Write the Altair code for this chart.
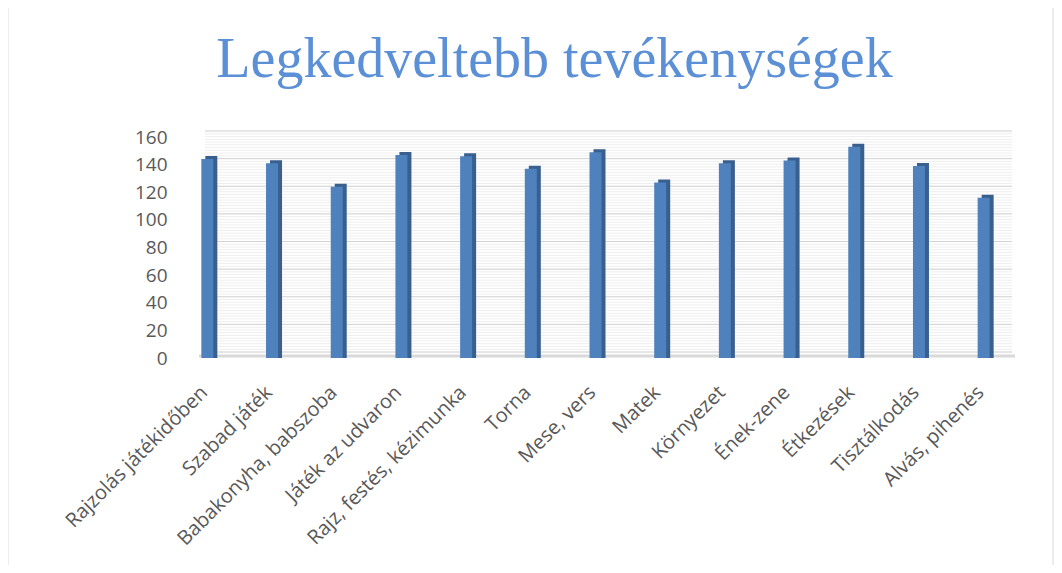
import altair as alt
import pandas as pd

categories = ["Rajzolás játékidőben", "Szabad játék", "Babakonyha, babszoba",
              "Játék az udvaron", "Rajz, festés, kézimunka", "Torna", "Mese, vers",
              "Matek", "Környezet", "Ének-zene", "Étkezések", "Tisztálkodás",
              "Alvás, pihenés"]
values = [144, 141, 124, 147, 146, 137, 149, 127, 141, 143, 153, 139, 116]
major_ticks = [0, 20, 40, 60, 80, 100, 120, 140, 160]
minor_ticks = list(range(0, 161, 2))

W, H = 841, 221
df = pd.DataFrame({"cat": categories, "val": values})
ydom = alt.Scale(domain=[0, 160], nice=False)
xsc = alt.X("cat:N", sort=categories, scale=alt.Scale(paddingInner=0.0, paddingOuter=0.0),
            axis=alt.Axis(title=None, labelAngle=-45, labelFontSize=20, labelColor="#595959",
                          labelFont="Open Sans", domain=False, ticks=False, labelPadding=24,
                          labelOffset=-12, labelLimit=400, labelOverlap=False))
yaxis = alt.Axis(title=None, values=major_ticks, grid=False, domain=False, ticks=False,
                 labelFontSize=19, labelColor="#595959", labelFont="Open Sans",
                 labelPadding=10, labelOverlap=False, labelFlush=False)

frame = alt.Chart(pd.DataFrame({"a": [0]})).mark_rect(
    fill=None, stroke="#d9d9d9", strokeWidth=1
).encode(x=alt.value(-169), x2=alt.value(876), y=alt.value(-132), y2=alt.value(460))

minor = alt.Chart(pd.DataFrame({"t": minor_ticks})).mark_rule(
    color="#eeeeee", strokeWidth=1, yOffset=-6
).encode(y=alt.Y("t:Q", scale=ydom, axis=yaxis), x=alt.value(28), x2=alt.value(835))

major = alt.Chart(pd.DataFrame({"t": major_ticks})).mark_rule(
    color="#d4d4d4", strokeWidth=1, yOffset=-6
).encode(y=alt.Y("t:Q", scale=ydom, axis=yaxis), x=alt.value(28), x2=alt.value(835))

floor = alt.Chart(pd.DataFrame({"t": [0]})).mark_rule(
    color="#d9d9d9", strokeWidth=3, yOffset=-2
).encode(y=alt.Y("t:Q", scale=ydom, axis=yaxis), x=alt.value(22), x2=alt.value(838))

sideb = alt.Chart(df).mark_bar(width=12, color="#385f8e", xOffset=2, yOffset=-3).encode(
    x=xsc,
    y=alt.Y("val:Q", scale=ydom, axis=yaxis),
    y2=alt.datum(0),
)
front = alt.Chart(df).mark_bar(width=12, color="#4f81bd", xOffset=-2).encode(
    x=xsc,
    y=alt.Y("val:Q", scale=ydom, axis=yaxis),
)

chart = alt.layer(minor, frame, major, floor, sideb, front).properties(
    width=W, height=H,
    autosize=alt.AutoSizeParams(type="none"),
    padding={"left": 169, "top": 129, "right": 36, "bottom": 207},
    title=alt.Title("Legkedveltebb tevékenységek", font="Liberation Serif", fontSize=56,
                    fontWeight="normal", color="#5b8fd6", anchor="middle", frame="group",
                    baseline="alphabetic", offset=0, dx=-43, dy=128),
).configure_view(stroke=None)

chart.save("out.html", embed_options={"renderer": "svg", "actions": False})
